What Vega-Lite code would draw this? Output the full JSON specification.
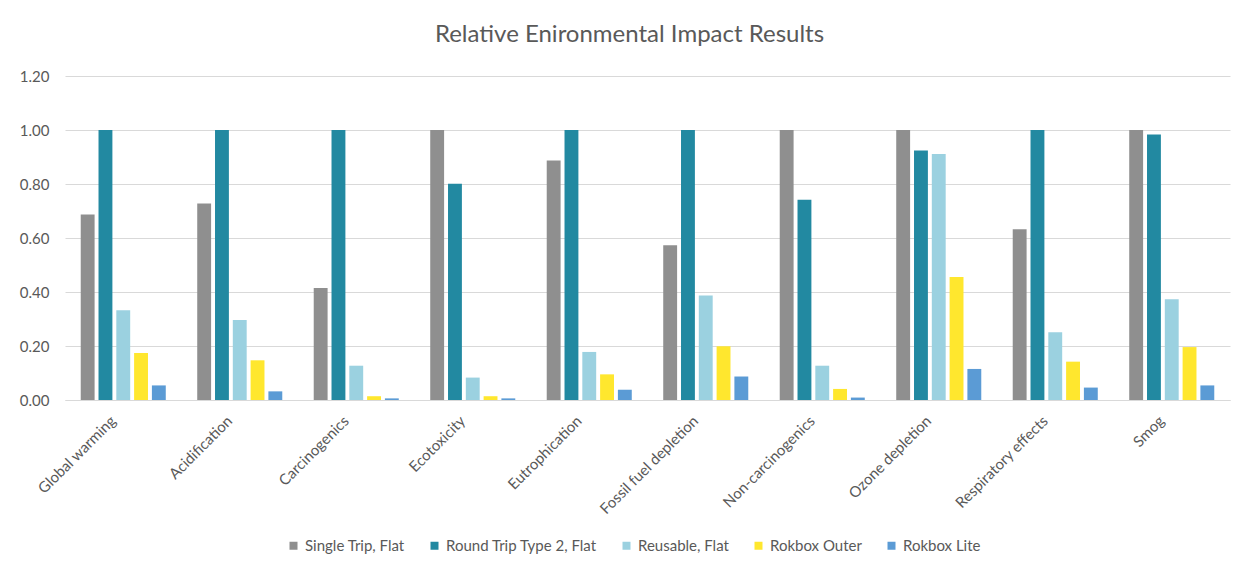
{
  "$schema": "https://vega.github.io/schema/vega-lite/v6.json",
  "width": 1165,
  "height": 324,
  "autosize": "none",
  "padding": {"left": 65, "top": 76, "right": 14, "bottom": 174},
  "background": "#ffffff",
  "title": {
    "text": "Relative Enironmental Impact Results",
    "font": "Lato",
    "fontSize": 24,
    "fontWeight": "normal",
    "color": "#595959",
    "frame": "group",
    "anchor": "middle",
    "offset": 22,
    "dx": -18
  },
  "config": {
    "view": {"stroke": null},
    "font": "Lato"
  },
  "data": {
    "values": [
      {"impact": "Global warming", "series": "Single Trip, Flat", "value": 0.687},
      {"impact": "Global warming", "series": "Round Trip Type 2, Flat", "value": 1.0},
      {"impact": "Global warming", "series": "Reusable, Flat", "value": 0.332},
      {"impact": "Global warming", "series": "Rokbox Outer", "value": 0.174},
      {"impact": "Global warming", "series": "Rokbox Lite", "value": 0.054},
      {"impact": "Acidification", "series": "Single Trip, Flat", "value": 0.728},
      {"impact": "Acidification", "series": "Round Trip Type 2, Flat", "value": 1.0},
      {"impact": "Acidification", "series": "Reusable, Flat", "value": 0.296},
      {"impact": "Acidification", "series": "Rokbox Outer", "value": 0.147},
      {"impact": "Acidification", "series": "Rokbox Lite", "value": 0.032},
      {"impact": "Carcinogenics", "series": "Single Trip, Flat", "value": 0.415},
      {"impact": "Carcinogenics", "series": "Round Trip Type 2, Flat", "value": 1.0},
      {"impact": "Carcinogenics", "series": "Reusable, Flat", "value": 0.127},
      {"impact": "Carcinogenics", "series": "Rokbox Outer", "value": 0.014},
      {"impact": "Carcinogenics", "series": "Rokbox Lite", "value": 0.006},
      {"impact": "Ecotoxicity", "series": "Single Trip, Flat", "value": 1.0},
      {"impact": "Ecotoxicity", "series": "Round Trip Type 2, Flat", "value": 0.801},
      {"impact": "Ecotoxicity", "series": "Reusable, Flat", "value": 0.083},
      {"impact": "Ecotoxicity", "series": "Rokbox Outer", "value": 0.014},
      {"impact": "Ecotoxicity", "series": "Rokbox Lite", "value": 0.006},
      {"impact": "Eutrophication", "series": "Single Trip, Flat", "value": 0.887},
      {"impact": "Eutrophication", "series": "Round Trip Type 2, Flat", "value": 1.0},
      {"impact": "Eutrophication", "series": "Reusable, Flat", "value": 0.178},
      {"impact": "Eutrophication", "series": "Rokbox Outer", "value": 0.095},
      {"impact": "Eutrophication", "series": "Rokbox Lite", "value": 0.038},
      {"impact": "Fossil fuel depletion", "series": "Single Trip, Flat", "value": 0.573},
      {"impact": "Fossil fuel depletion", "series": "Round Trip Type 2, Flat", "value": 1.0},
      {"impact": "Fossil fuel depletion", "series": "Reusable, Flat", "value": 0.387},
      {"impact": "Fossil fuel depletion", "series": "Rokbox Outer", "value": 0.199},
      {"impact": "Fossil fuel depletion", "series": "Rokbox Lite", "value": 0.087},
      {"impact": "Non-carcinogenics", "series": "Single Trip, Flat", "value": 1.0},
      {"impact": "Non-carcinogenics", "series": "Round Trip Type 2, Flat", "value": 0.742},
      {"impact": "Non-carcinogenics", "series": "Reusable, Flat", "value": 0.127},
      {"impact": "Non-carcinogenics", "series": "Rokbox Outer", "value": 0.041},
      {"impact": "Non-carcinogenics", "series": "Rokbox Lite", "value": 0.009},
      {"impact": "Ozone depletion", "series": "Single Trip, Flat", "value": 1.0},
      {"impact": "Ozone depletion", "series": "Round Trip Type 2, Flat", "value": 0.924},
      {"impact": "Ozone depletion", "series": "Reusable, Flat", "value": 0.911},
      {"impact": "Ozone depletion", "series": "Rokbox Outer", "value": 0.456},
      {"impact": "Ozone depletion", "series": "Rokbox Lite", "value": 0.115},
      {"impact": "Respiratory effects", "series": "Single Trip, Flat", "value": 0.632},
      {"impact": "Respiratory effects", "series": "Round Trip Type 2, Flat", "value": 1.0},
      {"impact": "Respiratory effects", "series": "Reusable, Flat", "value": 0.251},
      {"impact": "Respiratory effects", "series": "Rokbox Outer", "value": 0.142},
      {"impact": "Respiratory effects", "series": "Rokbox Lite", "value": 0.046},
      {"impact": "Smog", "series": "Single Trip, Flat", "value": 1.0},
      {"impact": "Smog", "series": "Round Trip Type 2, Flat", "value": 0.983},
      {"impact": "Smog", "series": "Reusable, Flat", "value": 0.373},
      {"impact": "Smog", "series": "Rokbox Outer", "value": 0.196},
      {"impact": "Smog", "series": "Rokbox Lite", "value": 0.054}
    ]
  },
  "mark": {"type": "bar"},
  "encoding": {
    "x": {
      "field": "impact",
      "type": "nominal",
      "sort": null,
      "title": null,
      "scale": {"paddingInner": 0.27, "paddingOuter": 0.135},
      "axis": {
        "labelAngle": -45,
        "labelAlign": "right",
        "labelBaseline": "middle",
        "labelPadding": 18,
        "labelOffset": -10,
        "labelFont": "Lato",
        "labelFontSize": 15,
        "labelColor": "#595959",
        "labelLimit": 300,
        "ticks": false,
        "domainColor": "#d9d9d9",
        "domainWidth": 1
      }
    },
    "xOffset": {
      "field": "series",
      "type": "nominal",
      "sort": ["Single Trip, Flat", "Round Trip Type 2, Flat", "Reusable, Flat", "Rokbox Outer", "Rokbox Lite"],
      "scale": {"paddingInner": 0.22, "paddingOuter": 0}
    },
    "y": {
      "field": "value",
      "type": "quantitative",
      "title": null,
      "scale": {"domain": [0, 1.2], "nice": false},
      "axis": {
        "values": [0, 0.2, 0.4, 0.6, 0.8, 1.0, 1.2],
        "format": ".2f",
        "domain": false,
        "ticks": false,
        "labelPadding": 16,
        "labelFont": "Lato",
        "labelFontSize": 15,
        "labelColor": "#595959",
        "gridColor": "#d9d9d9",
        "gridWidth": 1
      }
    },
    "color": {
      "field": "series",
      "type": "nominal",
      "scale": {
        "domain": ["Single Trip, Flat", "Round Trip Type 2, Flat", "Reusable, Flat", "Rokbox Outer", "Rokbox Lite"],
        "range": ["#8f8f8f", "#2289a1", "#9bd1e0", "#ffe72e", "#5b9bd5"]
      },
      "legend": {
        "title": null,
        "orient": "none",
        "direction": "horizontal",
        "legendX": 221,
        "legendY": 462,
        "symbolType": "square",
        "symbolSize": 64,
        "symbolStrokeWidth": 0,
        "labelFont": "Lato",
        "labelFontSize": 15,
        "labelColor": "#595959",
        "labelOffset": 4,
        "columnPadding": 22,
        "labelLimit": 300
      }
    }
  }
}
